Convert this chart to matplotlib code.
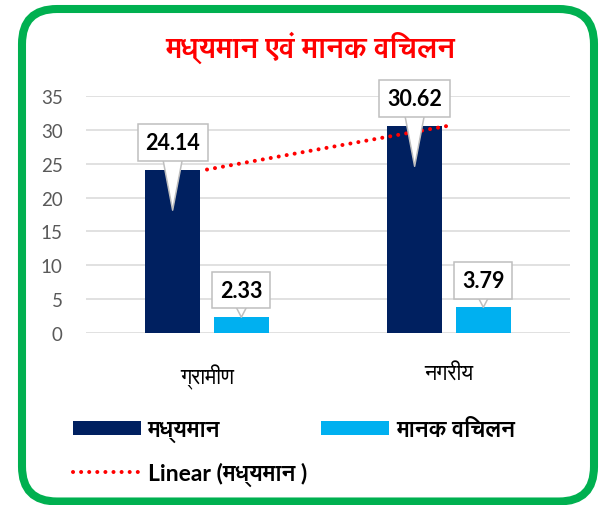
import matplotlib
matplotlib.use('Agg')
import matplotlib.pyplot as plt
from matplotlib import font_manager
from matplotlib.patches import FancyBboxPatch, Patch
from matplotlib.lines import Line2D
from matplotlib.transforms import offset_copy
import numpy as np

# chart data
categories = ['ग्रामीण', 'नगरीय']
mean_values = [24.14, 30.62]
sd_values = [2.33, 3.79]
y_ticks = [0, 5, 10, 15, 20, 25, 30, 35]
title_text = 'मध्यमान एवं मानक विचलन'
mean_name = 'मध्यमान'
sd_name = 'मानक विचलन'
trend_name = 'Linear (मध्यमान )'

dark_blue = '#002060'
light_blue = '#00b0f0'


def devanagari_fonts():
   """
   looks for any installed font that can draw Hindi text
   """
   known = ('Lohit Devanagari', 'Lohit Hindi', 'Mangal', 'Nirmala UI', 'FreeSans', 'FreeSerif',
            'Gargi', 'Kalimati', 'Sarai', 'Chandas', 'Samanata', 'Nakula', 'Sahadeva')
   found = []
   for f in font_manager.fontManager.ttflist:
      if ('Devanagari' in f.name or f.name in known) and f.name not in found:
         found.append(f.name)
   return found


families = ['Lato'] + devanagari_fonts() + ['DejaVu Sans']
plt.rcParams['font.family'] = families

fig = plt.figure(figsize=(6.01, 5.06), dpi=100)
ax = fig.add_axes([0.1431, 0.3399, 0.8053, 0.4684])

x = np.arange(len(categories))
bar_w = 0.227
offset = 0.142

ax.bar(x - offset, mean_values, bar_w, color=dark_blue, zorder=3)
ax.bar(x + offset, sd_values, bar_w, color=light_blue, zorder=3)

# linear trend through the mean series
coef = np.polyfit(x, mean_values, 1)
trend_x = np.array([x[0], x[-1]])
ax.plot(trend_x, np.polyval(coef, trend_x), color='red', linewidth=2.9,
        linestyle=(0, (0.01, 2.0)), dash_capstyle='round', zorder=4)


def callout(xpos, value, drop, tail):
   # label box sits above the bar, the pointer runs down into it
   text_trans = offset_copy(ax.transData, fig=fig, x=0, y=19.5, units='points')
   ax.annotate(f'{value:.2f}', xy=(xpos, value - drop), xytext=(xpos, value),
               textcoords=text_trans, ha='center', va='center',
               fontsize=15.5, fontweight='bold', color='black', zorder=5,
               bbox=dict(boxstyle='square,pad=0.36', fc='white', ec='#bfbfbf', lw=1.1),
               arrowprops=dict(arrowstyle=f'wedge,tail_width={tail}', fc='white', ec='#bfbfbf',
                               lw=1.1, shrinkA=0, shrinkB=0, patchA=None))


for i in range(len(categories)):
   callout(x[i] - offset, mean_values[i], 6, 1.2)
   callout(x[i] + offset, sd_values[i], 0, 1.3)

ax.set_xlim(-0.5, len(categories) - 0.5)
ax.set_ylim(y_ticks[0], y_ticks[-1])
ax.set_yticks(y_ticks)
ax.set_xticks(x)
ax.set_xticklabels(categories, fontsize=15.5, color='black')
ax.tick_params(axis='y', length=0, pad=16.8, labelsize=13.5, labelcolor='#595959')
ax.tick_params(axis='x', length=0, pad=22)
ax.grid(axis='y', color='#d9d9d9', linewidth=1.1, zorder=0)
for side in ax.spines:
   ax.spines[side].set_visible(False)

fig.text(0.516, 0.905, title_text, ha='center', va='center', fontsize=21,
         fontweight='bold', color='red')

# legend, two blocks so each column lands where it should
h_mean = Patch(facecolor=dark_blue, edgecolor='none')
h_sd = Patch(facecolor=light_blue, edgecolor='none')
h_trend = Line2D([], [], color='red', linewidth=2.9, linestyle=(0, (0.01, 2.0)),
                 dash_capstyle='round')
leg_props = dict(prop={'size': 16.5, 'weight': 'bold'}, frameon=False, handlelength=2.97,
                 handleheight=0.57, handletextpad=0.3, borderaxespad=0, borderpad=0)
leg1 = fig.legend([h_mean, h_trend], [mean_name, trend_name], loc='upper left',
                  bbox_to_anchor=(0.121, 0.170), labelspacing=0.85, **leg_props)
leg2 = fig.legend([h_sd], [sd_name], loc='upper left', bbox_to_anchor=(0.534, 0.170),
                  **leg_props)

# green rounded frame round the whole chart
frame = FancyBboxPatch((0.22, 0.035), 5.72, 4.925, boxstyle='round,pad=0,rounding_size=0.35',
                       transform=fig.dpi_scale_trans, fc='none', ec='#00b050', lw=5.8)
fig.patches.append(frame)

fig.savefig('out.png', dpi=100)
